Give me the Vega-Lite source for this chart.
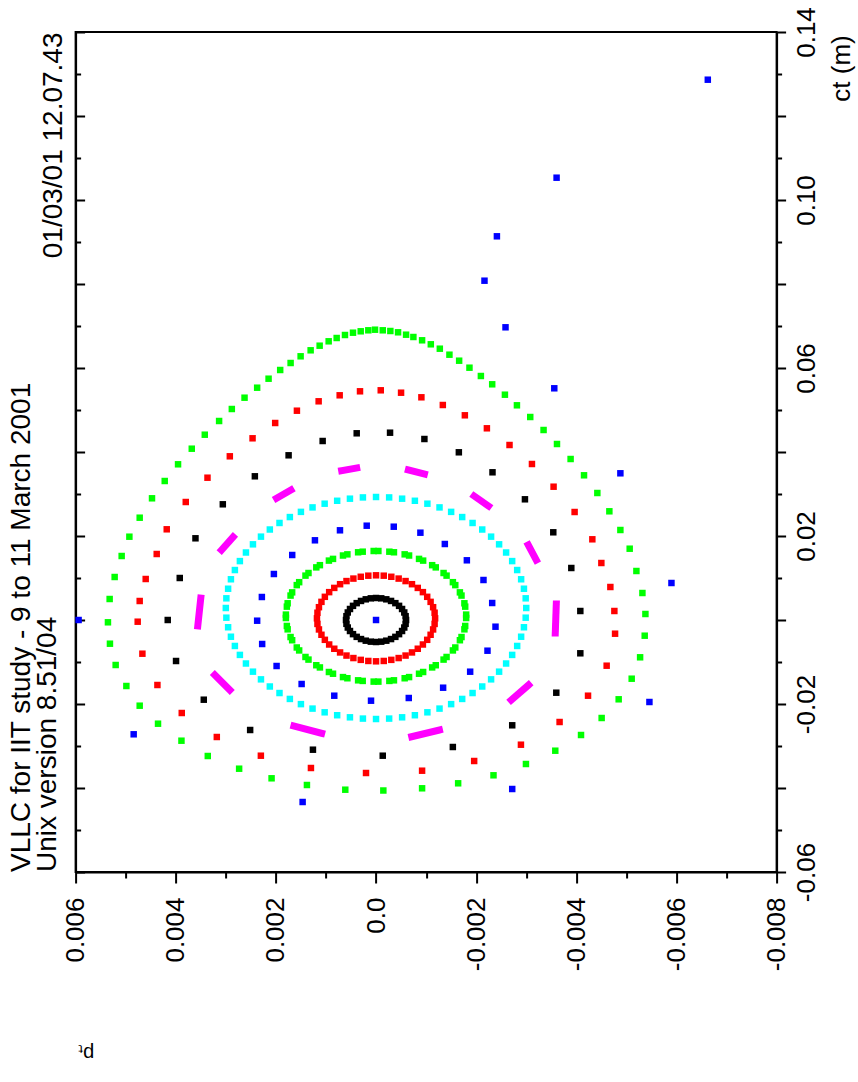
{
  "$schema": "https://vega.github.io/schema/vega-lite/v6.json",
  "width": 701,
  "height": 840,
  "autosize": "none",
  "padding": {"left": 75.6, "top": 32, "right": 81.4, "bottom": 210},
  "background": "white",
  "config": {
    "view": {"stroke": "black", "strokeWidth": 2},
    "font": "Liberation Sans",
    "axis": {
      "grid": false, "domainColor": "black", "domainWidth": 2,
      "tickColor": "black", "tickWidth": 2,
      "labelFont": "Liberation Sans", "labelFontSize": 26, "labelColor": "black",
      "titleFont": "Liberation Sans", "titleFontSize": 26, "titleFontWeight": "normal", "titleColor": "black",
      "labelOverlap": false, "labelFlush": false, "labelBound": false
    }
  },
  "title": {
    "text": ["VLLC for IIT study - 9 to 11 March 2001", "Unix version 8.51/04"],
    "orient": "left", "anchor": "start", "frame": "group", "offset": -23,
    "font": "Liberation Sans", "fontSize": 28, "fontWeight": "normal", "color": "black", "lineHeight": 26
  },
  "datasets": {
    "dashes": [
      {"p": 0.000686, "t": 0.035548, "p2": 0.000386, "t2": 0.03619},
      {"p": -0.000646, "t": 0.035714, "p2": -0.000966, "t2": 0.034762},
      {"p": -0.00196, "t": 0.029524, "p2": -0.002246, "t2": 0.027143},
      {"p": -0.00304, "t": 0.017857, "p2": -0.0032, "t2": 0.014286},
      {"p": -0.0036, "t": 0.00381, "p2": -0.00358, "t2": -0.003095},
      {"p": -0.003046, "t": -0.015476, "p2": -0.0027, "t2": -0.019048},
      {"p": -0.001266, "t": -0.02619, "p2": -0.000714, "t2": -0.027786},
      {"p": 0.001086, "t": -0.026976, "p2": 0.00164, "t2": -0.025238},
      {"p": 0.00292, "t": -0.016667, "p2": 0.00322, "t2": -0.013095},
      {"p": 0.00356, "t": -0.001429, "p2": 0.0035, "t2": 0.005238},
      {"p": 0.003086, "t": 0.016667, "p2": 0.002854, "t2": 0.019762},
      {"p": 0.001986, "t": 0.028976, "p2": 0.0017, "t2": 0.030952}
    ],
    "pts": [
      {"o": 0, "p": 0, "t": 0},

      {"o": 1, "p": 0.0006, "t": 0}, {"o": 1, "p": 0.000591, "t": 0.00091}, {"o": 1, "p": 0.000564, "t": 0.001792},
      {"o": 1, "p": 0.00052, "t": 0.00262}, {"o": 1, "p": 0.00046, "t": 0.003368}, {"o": 1, "p": 0.000386, "t": 0.004014},
      {"o": 1, "p": 0.0003, "t": 0.004538}, {"o": 1, "p": 0.000205, "t": 0.004924}, {"o": 1, "p": 0.000104, "t": 0.00516},
      {"o": 1, "p": 0, "t": 0.00524}, {"o": 1, "p": -0.000104, "t": 0.00516}, {"o": 1, "p": -0.000205, "t": 0.004924},
      {"o": 1, "p": -0.0003, "t": 0.004538}, {"o": 1, "p": -0.000386, "t": 0.004014}, {"o": 1, "p": -0.00046, "t": 0.003368},
      {"o": 1, "p": -0.00052, "t": 0.00262}, {"o": 1, "p": -0.000564, "t": 0.001792}, {"o": 1, "p": -0.000591, "t": 0.00091},
      {"o": 1, "p": -0.0006, "t": 0}, {"o": 1, "p": -0.000591, "t": -0.00091}, {"o": 1, "p": -0.000564, "t": -0.001792},
      {"o": 1, "p": -0.00052, "t": -0.00262}, {"o": 1, "p": -0.00046, "t": -0.003368}, {"o": 1, "p": -0.000386, "t": -0.004014},
      {"o": 1, "p": -0.0003, "t": -0.004538}, {"o": 1, "p": -0.000205, "t": -0.004924}, {"o": 1, "p": -0.000104, "t": -0.00516},
      {"o": 1, "p": 0, "t": -0.00524}, {"o": 1, "p": 0.000104, "t": -0.00516}, {"o": 1, "p": 0.000205, "t": -0.004924},
      {"o": 1, "p": 0.0003, "t": -0.004538}, {"o": 1, "p": 0.000386, "t": -0.004014}, {"o": 1, "p": 0.00046, "t": -0.003368},
      {"o": 1, "p": 0.00052, "t": -0.00262}, {"o": 1, "p": 0.000564, "t": -0.001792}, {"o": 1, "p": 0.000591, "t": -0.00091},

      {"o": 2, "p": 0.00118, "t": 0.0004}, {"o": 2, "p": 0.00117, "t": 0.001736}, {"o": 2, "p": 0.00114, "t": 0.00305},
      {"o": 2, "p": 0.00109, "t": 0.004319}, {"o": 2, "p": 0.001022, "t": 0.00552}, {"o": 2, "p": 0.000936, "t": 0.006634},
      {"o": 2, "p": 0.000834, "t": 0.007641}, {"o": 2, "p": 0.000718, "t": 0.008524}, {"o": 2, "p": 0.00059, "t": 0.009268},
      {"o": 2, "p": 0.000452, "t": 0.009861}, {"o": 2, "p": 0.000305, "t": 0.010291}, {"o": 2, "p": 0.000154, "t": 0.010552},
      {"o": 2, "p": 0, "t": 0.01064}, {"o": 2, "p": -0.000154, "t": 0.010552}, {"o": 2, "p": -0.000305, "t": 0.010291},
      {"o": 2, "p": -0.000452, "t": 0.009861}, {"o": 2, "p": -0.00059, "t": 0.009268}, {"o": 2, "p": -0.000718, "t": 0.008524},
      {"o": 2, "p": -0.000834, "t": 0.007641}, {"o": 2, "p": -0.000936, "t": 0.006634}, {"o": 2, "p": -0.001022, "t": 0.00552},
      {"o": 2, "p": -0.00109, "t": 0.004319}, {"o": 2, "p": -0.00114, "t": 0.00305}, {"o": 2, "p": -0.00117, "t": 0.001736},
      {"o": 2, "p": -0.00118, "t": 0.0004}, {"o": 2, "p": -0.00117, "t": -0.000936}, {"o": 2, "p": -0.00114, "t": -0.00225},
      {"o": 2, "p": -0.00109, "t": -0.003519}, {"o": 2, "p": -0.001022, "t": -0.00472}, {"o": 2, "p": -0.000936, "t": -0.005834},
      {"o": 2, "p": -0.000834, "t": -0.006841}, {"o": 2, "p": -0.000718, "t": -0.007724}, {"o": 2, "p": -0.00059, "t": -0.008468},
      {"o": 2, "p": -0.000452, "t": -0.009061}, {"o": 2, "p": -0.000305, "t": -0.009491}, {"o": 2, "p": -0.000154, "t": -0.009752},
      {"o": 2, "p": 0, "t": -0.00984}, {"o": 2, "p": 0.000154, "t": -0.009752}, {"o": 2, "p": 0.000305, "t": -0.009491},
      {"o": 2, "p": 0.000452, "t": -0.009061}, {"o": 2, "p": 0.00059, "t": -0.008468}, {"o": 2, "p": 0.000718, "t": -0.007724},
      {"o": 2, "p": 0.000834, "t": -0.006841}, {"o": 2, "p": 0.000936, "t": -0.005834}, {"o": 2, "p": 0.001022, "t": -0.00472},
      {"o": 2, "p": 0.00109, "t": -0.003519}, {"o": 2, "p": 0.00114, "t": -0.00225}, {"o": 2, "p": 0.00117, "t": -0.000936},

      {"o": 3, "p": 0.0018, "t": 0.000473}, {"o": 3, "p": 0.0018, "t": 0.001287},
      {"o": 3, "p": 0.001781, "t": 0.003179}, {"o": 3, "p": 0.001765, "t": 0.003981},
      {"o": 3, "p": 0.001707, "t": 0.005816}, {"o": 3, "p": 0.001675, "t": 0.00658},
      {"o": 3, "p": 0.001583, "t": 0.008303}, {"o": 3, "p": 0.001535, "t": 0.009007},
      {"o": 3, "p": 0.001409, "t": 0.010564}, {"o": 3, "p": 0.001349, "t": 0.011188},
      {"o": 3, "p": 0.001193, "t": 0.012529}, {"o": 3, "p": 0.001121, "t": 0.013053},
      {"o": 3, "p": 0.000941, "t": 0.014142}, {"o": 3, "p": 0.000859, "t": 0.01455},
      {"o": 3, "p": 0.00066, "t": 0.015353}, {"o": 3, "p": 0.000572, "t": 0.015631},
      {"o": 3, "p": 0.000358, "t": 0.016123}, {"o": 3, "p": 0.000266, "t": 0.016265},
      {"o": 3, "p": 0.000047, "t": 0.01643}, {"o": 3, "p": -0.000047, "t": 0.01643},
      {"o": 3, "p": -0.000266, "t": 0.016265}, {"o": 3, "p": -0.000358, "t": 0.016123},
      {"o": 3, "p": -0.000572, "t": 0.015631}, {"o": 3, "p": -0.00066, "t": 0.015353},
      {"o": 3, "p": -0.000859, "t": 0.01455}, {"o": 3, "p": -0.000941, "t": 0.014142},
      {"o": 3, "p": -0.001121, "t": 0.013053}, {"o": 3, "p": -0.001193, "t": 0.012529},
      {"o": 3, "p": -0.001349, "t": 0.011188}, {"o": 3, "p": -0.001409, "t": 0.010564},
      {"o": 3, "p": -0.001535, "t": 0.009007}, {"o": 3, "p": -0.001583, "t": 0.008303},
      {"o": 3, "p": -0.001675, "t": 0.00658}, {"o": 3, "p": -0.001707, "t": 0.005816},
      {"o": 3, "p": -0.001765, "t": 0.003981}, {"o": 3, "p": -0.001781, "t": 0.003179},
      {"o": 3, "p": -0.0018, "t": 0.001287}, {"o": 3, "p": -0.0018, "t": 0.000473},
      {"o": 3, "p": -0.001765, "t": -0.002221}, {"o": 3, "p": -0.001781, "t": -0.001419},
      {"o": 3, "p": -0.001675, "t": -0.00482}, {"o": 3, "p": -0.001707, "t": -0.004056},
      {"o": 3, "p": -0.001535, "t": -0.007247}, {"o": 3, "p": -0.001583, "t": -0.006543},
      {"o": 3, "p": -0.001349, "t": -0.009428}, {"o": 3, "p": -0.001409, "t": -0.008804},
      {"o": 3, "p": -0.001121, "t": -0.011293}, {"o": 3, "p": -0.001193, "t": -0.010769},
      {"o": 3, "p": -0.000859, "t": -0.01279}, {"o": 3, "p": -0.000941, "t": -0.012382},
      {"o": 3, "p": -0.000572, "t": -0.013871}, {"o": 3, "p": -0.00066, "t": -0.013593},
      {"o": 3, "p": -0.000266, "t": -0.014505}, {"o": 3, "p": -0.000358, "t": -0.014363},
      {"o": 3, "p": 0.000047, "t": -0.01467}, {"o": 3, "p": -0.000047, "t": -0.01467},
      {"o": 3, "p": 0.000358, "t": -0.014363}, {"o": 3, "p": 0.000266, "t": -0.014505},
      {"o": 3, "p": 0.00066, "t": -0.013593}, {"o": 3, "p": 0.000572, "t": -0.013871},
      {"o": 3, "p": 0.000941, "t": -0.012382}, {"o": 3, "p": 0.000859, "t": -0.01279},
      {"o": 3, "p": 0.001193, "t": -0.010769}, {"o": 3, "p": 0.001121, "t": -0.011293},
      {"o": 3, "p": 0.001409, "t": -0.008804}, {"o": 3, "p": 0.001349, "t": -0.009428},
      {"o": 3, "p": 0.001583, "t": -0.006543}, {"o": 3, "p": 0.001535, "t": -0.007247},
      {"o": 3, "p": 0.001707, "t": -0.004056}, {"o": 3, "p": 0.001675, "t": -0.00482},
      {"o": 3, "p": 0.001781, "t": -0.001419}, {"o": 3, "p": 0.001765, "t": -0.002221},

      {"o": 4, "p": 0.000186, "t": 0.022452}, {"o": 4, "p": -0.000354, "t": 0.022214}, {"o": 4, "p": -0.000886, "t": 0.020786},
      {"o": 4, "p": -0.001374, "t": 0.018095}, {"o": 4, "p": -0.001814, "t": 0.014214}, {"o": 4, "p": -0.002146, "t": 0.009524},
      {"o": 4, "p": -0.00232, "t": 0.004048}, {"o": 4, "p": -0.002386, "t": -0.001595}, {"o": 4, "p": -0.002226, "t": -0.00731},
      {"o": 4, "p": -0.00188, "t": -0.01231}, {"o": 4, "p": -0.00134, "t": -0.016119}, {"o": 4, "p": -0.000654, "t": -0.018571},
      {"o": 4, "p": 0.0001, "t": -0.019214}, {"o": 4, "p": 0.000834, "t": -0.018024}, {"o": 4, "p": 0.001486, "t": -0.015238},
      {"o": 4, "p": 0.001986, "t": -0.010952}, {"o": 4, "p": 0.002274, "t": -0.005714}, {"o": 4, "p": 0.002374, "t": -0.000167},
      {"o": 4, "p": 0.00228, "t": 0.005476}, {"o": 4, "p": 0.00204, "t": 0.010952}, {"o": 4, "p": 0.001674, "t": 0.015476},
      {"o": 4, "p": 0.00122, "t": 0.018976}, {"o": 4, "p": 0.00072, "t": 0.021357},

      {"o": 5, "p": 0.003, "t": 0.002857}, {"o": 5, "p": 0.002989, "t": 0.005162}, {"o": 5, "p": 0.002954, "t": 0.007445},
      {"o": 5, "p": 0.002898, "t": 0.009697}, {"o": 5, "p": 0.002819, "t": 0.011896}, {"o": 5, "p": 0.002719, "t": 0.014026},
      {"o": 5, "p": 0.002598, "t": 0.016072}, {"o": 5, "p": 0.002458, "t": 0.018017}, {"o": 5, "p": 0.002298, "t": 0.019846},
      {"o": 5, "p": 0.002121, "t": 0.021546}, {"o": 5, "p": 0.001928, "t": 0.023102}, {"o": 5, "p": 0.001721, "t": 0.024508},
      {"o": 5, "p": 0.0015, "t": 0.025745}, {"o": 5, "p": 0.001268, "t": 0.02681}, {"o": 5, "p": 0.001026, "t": 0.027693},
      {"o": 5, "p": 0.000776, "t": 0.028386}, {"o": 5, "p": 0.000521, "t": 0.028885}, {"o": 5, "p": 0.000262, "t": 0.029187},
      {"o": 5, "p": 0, "t": 0.029287}, {"o": 5, "p": -0.000262, "t": 0.029187}, {"o": 5, "p": -0.000521, "t": 0.028885},
      {"o": 5, "p": -0.000776, "t": 0.028386}, {"o": 5, "p": -0.001026, "t": 0.027693}, {"o": 5, "p": -0.001268, "t": 0.02681},
      {"o": 5, "p": -0.0015, "t": 0.025745}, {"o": 5, "p": -0.001721, "t": 0.024508}, {"o": 5, "p": -0.001928, "t": 0.023102},
      {"o": 5, "p": -0.002121, "t": 0.021546}, {"o": 5, "p": -0.002298, "t": 0.019846}, {"o": 5, "p": -0.002458, "t": 0.018017},
      {"o": 5, "p": -0.002598, "t": 0.016072}, {"o": 5, "p": -0.002719, "t": 0.014026}, {"o": 5, "p": -0.002819, "t": 0.011896},
      {"o": 5, "p": -0.002898, "t": 0.009697}, {"o": 5, "p": -0.002954, "t": 0.007445}, {"o": 5, "p": -0.002989, "t": 0.005162},
      {"o": 5, "p": -0.003, "t": 0.002857}, {"o": 5, "p": -0.002989, "t": 0.000552}, {"o": 5, "p": -0.002954, "t": -0.001731},
      {"o": 5, "p": -0.002898, "t": -0.003983}, {"o": 5, "p": -0.002819, "t": -0.006182}, {"o": 5, "p": -0.002719, "t": -0.008312},
      {"o": 5, "p": -0.002598, "t": -0.010358}, {"o": 5, "p": -0.002458, "t": -0.012303}, {"o": 5, "p": -0.002298, "t": -0.014132},
      {"o": 5, "p": -0.002121, "t": -0.015832}, {"o": 5, "p": -0.001928, "t": -0.017388}, {"o": 5, "p": -0.001721, "t": -0.018794},
      {"o": 5, "p": -0.0015, "t": -0.020031}, {"o": 5, "p": -0.001268, "t": -0.021096}, {"o": 5, "p": -0.001026, "t": -0.021979},
      {"o": 5, "p": -0.000776, "t": -0.022672}, {"o": 5, "p": -0.000521, "t": -0.023171}, {"o": 5, "p": -0.000262, "t": -0.023473},
      {"o": 5, "p": 0, "t": -0.023573}, {"o": 5, "p": 0.000262, "t": -0.023473}, {"o": 5, "p": 0.000521, "t": -0.023171},
      {"o": 5, "p": 0.000776, "t": -0.022672}, {"o": 5, "p": 0.001026, "t": -0.021979}, {"o": 5, "p": 0.001268, "t": -0.021096},
      {"o": 5, "p": 0.0015, "t": -0.020031}, {"o": 5, "p": 0.001721, "t": -0.018794}, {"o": 5, "p": 0.001928, "t": -0.017388},
      {"o": 5, "p": 0.002121, "t": -0.015832}, {"o": 5, "p": 0.002298, "t": -0.014132}, {"o": 5, "p": 0.002458, "t": -0.012303},
      {"o": 5, "p": 0.002598, "t": -0.010358}, {"o": 5, "p": 0.002719, "t": -0.008312}, {"o": 5, "p": 0.002819, "t": -0.006182},
      {"o": 5, "p": 0.002898, "t": -0.003983}, {"o": 5, "p": 0.002954, "t": -0.001731}, {"o": 5, "p": 0.002989, "t": 0.000552},

      {"o": 7, "p": -0.00028, "t": 0.044595}, {"o": 7, "p": 0.000386, "t": 0.044452}, {"o": 7, "p": 0.001066, "t": 0.042619},
      {"o": 7, "p": 0.001746, "t": 0.039214}, {"o": 7, "p": 0.00242, "t": 0.034214}, {"o": 7, "p": 0.00306, "t": 0.027548},
      {"o": 7, "p": 0.003606, "t": 0.019452}, {"o": 7, "p": 0.00392, "t": 0.01}, {"o": 7, "p": 0.00416, "t": 0},
      {"o": 7, "p": 0.003994, "t": -0.009762}, {"o": 7, "p": 0.00344, "t": -0.018976}, {"o": 7, "p": 0.002514, "t": -0.02619},
      {"o": 7, "p": 0.00126, "t": -0.030881}, {"o": 7, "p": -0.000134, "t": -0.03231}, {"o": 7, "p": -0.001534, "t": -0.030238},
      {"o": 7, "p": -0.00272, "t": -0.025071}, {"o": 7, "p": -0.0036, "t": -0.01731}, {"o": 7, "p": -0.00408, "t": -0.007929},
      {"o": 7, "p": -0.00408, "t": 0.002143}, {"o": 7, "p": -0.0039, "t": 0.012381}, {"o": 7, "p": -0.00354, "t": 0.020881},
      {"o": 7, "p": -0.002974, "t": 0.028738}, {"o": 7, "p": -0.002326, "t": 0.035167}, {"o": 7, "p": -0.001654, "t": 0.039929},
      {"o": 7, "p": -0.000966, "t": 0.043095},

      {"o": 8, "p": 0.00032, "t": 0.054452}, {"o": 8, "p": -0.000094, "t": 0.05469}, {"o": 8, "p": -0.0005, "t": 0.054119},
      {"o": 8, "p": -0.000906, "t": 0.053024}, {"o": 8, "p": -0.001334, "t": 0.05119}, {"o": 8, "p": -0.001774, "t": 0.048738},
      {"o": 8, "p": -0.002214, "t": 0.045643}, {"o": 8, "p": -0.002666, "t": 0.041667}, {"o": 8, "p": -0.003114, "t": 0.037143},
      {"o": 8, "p": -0.003546, "t": 0.031738}, {"o": 8, "p": -0.003966, "t": 0.025714}, {"o": 8, "p": -0.00432, "t": 0.019214},
      {"o": 8, "p": -0.0045, "t": 0.013571}, {"o": 8, "p": -0.00468, "t": 0.007857}, {"o": 8, "p": -0.00476, "t": 0.002143},
      {"o": 8, "p": -0.004774, "t": -0.003262}, {"o": 8, "p": -0.004606, "t": -0.010881}, {"o": 8, "p": -0.004234, "t": -0.018024},
      {"o": 8, "p": -0.003666, "t": -0.024286}, {"o": 8, "p": -0.002894, "t": -0.02969}, {"o": 8, "p": -0.00196, "t": -0.033571},
      {"o": 8, "p": -0.00092, "t": -0.035881}, {"o": 8, "p": 0.0002, "t": -0.036429}, {"o": 8, "p": 0.0013, "t": -0.035238},
      {"o": 8, "p": 0.0023, "t": -0.03231}, {"o": 8, "p": 0.00318, "t": -0.027857}, {"o": 8, "p": 0.00388, "t": -0.022143},
      {"o": 8, "p": 0.004366, "t": -0.015476}, {"o": 8, "p": 0.004666, "t": -0.008024}, {"o": 8, "p": 0.00476, "t": -0.000405},
      {"o": 8, "p": 0.00472, "t": 0.004524}, {"o": 8, "p": 0.0046, "t": 0.009762}, {"o": 8, "p": 0.00438, "t": 0.015714},
      {"o": 8, "p": 0.00418, "t": 0.021595}, {"o": 8, "p": 0.0038, "t": 0.028095}, {"o": 8, "p": 0.003366, "t": 0.03388},
      {"o": 8, "p": 0.00292, "t": 0.038976}, {"o": 8, "p": 0.002466, "t": 0.043262}, {"o": 8, "p": 0.002014, "t": 0.046905},
      {"o": 8, "p": 0.00158, "t": 0.049833}, {"o": 8, "p": 0.001146, "t": 0.052071}, {"o": 8, "p": 0.000726, "t": 0.0535},

      {"o": 9, "p": 0.004926, "t": 0.019833}, {"o": 9, "p": 0.00472, "t": 0.024357}, {"o": 9, "p": 0.004474, "t": 0.028976},
      {"o": 9, "p": 0.00422, "t": 0.033095}, {"o": 9, "p": 0.003954, "t": 0.037071}, {"o": 9, "p": 0.00368, "t": 0.040786},
      {"o": 9, "p": 0.00342, "t": 0.044119}, {"o": 9, "p": 0.003134, "t": 0.047381}, {"o": 9, "p": 0.00288, "t": 0.050238},
      {"o": 9, "p": 0.002626, "t": 0.052929}, {"o": 9, "p": 0.002374, "t": 0.05531}, {"o": 9, "p": 0.002146, "t": 0.057452},
      {"o": 9, "p": 0.001914, "t": 0.059524}, {"o": 9, "p": 0.001706, "t": 0.06119}, {"o": 9, "p": 0.001506, "t": 0.062786},
      {"o": 9, "p": 0.001306, "t": 0.064214}, {"o": 9, "p": 0.001126, "t": 0.06531}, {"o": 9, "p": 0.000946, "t": 0.066357},
      {"o": 9, "p": 0.000786, "t": 0.067143}, {"o": 9, "p": 0.00062, "t": 0.067857}, {"o": 9, "p": 0.00046, "t": 0.068405},
      {"o": 9, "p": 0.000306, "t": 0.068738}, {"o": 9, "p": 0.000154, "t": 0.068976}, {"o": 9, "p": 0.00002, "t": 0.069119},
      {"o": 9, "p": -0.000134, "t": 0.068976}, {"o": 9, "p": -0.000286, "t": 0.06881}, {"o": 9, "p": -0.00044, "t": 0.0685},
      {"o": 9, "p": -0.0006, "t": 0.067929}, {"o": 9, "p": -0.000746, "t": 0.067381}, {"o": 9, "p": -0.00092, "t": 0.066595},
      {"o": 9, "p": -0.001094, "t": 0.065643}, {"o": 9, "p": -0.001274, "t": 0.064595}, {"o": 9, "p": -0.001466, "t": 0.063167},
      {"o": 9, "p": -0.00166, "t": 0.061738}, {"o": 9, "p": -0.001866, "t": 0.060071}, {"o": 9, "p": -0.002094, "t": 0.058095},
      {"o": 9, "p": -0.00232, "t": 0.056119}, {"o": 9, "p": -0.002574, "t": 0.053643}, {"o": 9, "p": -0.002814, "t": 0.051119},
      {"o": 9, "p": -0.00308, "t": 0.048333}, {"o": 9, "p": -0.003346, "t": 0.045238}, {"o": 9, "p": -0.003614, "t": 0.041905},
      {"o": 9, "p": -0.003886, "t": 0.038333}, {"o": 9, "p": -0.004154, "t": 0.034452}, {"o": 9, "p": -0.00442, "t": 0.030238},
      {"o": 9, "p": -0.00466, "t": 0.025881}, {"o": 9, "p": -0.00488, "t": 0.021429}, {"o": 9, "p": -0.005066, "t": 0.016976},
      {"o": 9, "p": -0.0052, "t": 0.011667}, {"o": 9, "p": -0.00532, "t": 0.006429}, {"o": 9, "p": -0.00538, "t": 0.001429},
      {"o": 9, "p": -0.005366, "t": -0.003738}, {"o": 9, "p": -0.005274, "t": -0.008881}, {"o": 9, "p": -0.005106, "t": -0.013976},
      {"o": 9, "p": -0.004846, "t": -0.018881}, {"o": 9, "p": -0.004506, "t": -0.023333}, {"o": 9, "p": -0.004094, "t": -0.027381},
      {"o": 9, "p": -0.00358, "t": -0.031119}, {"o": 9, "p": -0.002994, "t": -0.034286}, {"o": 9, "p": -0.002346, "t": -0.036976},
      {"o": 9, "p": -0.00164, "t": -0.038881}, {"o": 9, "p": -0.00092, "t": -0.040071}, {"o": 9, "p": -0.000146, "t": -0.040595},
      {"o": 9, "p": 0.000614, "t": -0.040405}, {"o": 9, "p": 0.00138, "t": -0.039286}, {"o": 9, "p": 0.002086, "t": -0.03769},
      {"o": 9, "p": 0.002734, "t": -0.035405}, {"o": 9, "p": 0.00336, "t": -0.032381}, {"o": 9, "p": 0.003886, "t": -0.028738},
      {"o": 9, "p": 0.004354, "t": -0.02469}, {"o": 9, "p": 0.00472, "t": -0.020405}, {"o": 9, "p": 0.004986, "t": -0.015714},
      {"o": 9, "p": 0.0052, "t": -0.010714}, {"o": 9, "p": 0.005314, "t": -0.005643}, {"o": 9, "p": 0.005354, "t": -0.000548},
      {"o": 9, "p": 0.00532, "t": 0.005}, {"o": 9, "p": 0.00522, "t": 0.010238}, {"o": 9, "p": 0.00508, "t": 0.015238},

      {"o": 10, "p": 0.00594, "t": 0}, {"o": 10, "p": 0.00484, "t": -0.027214}, {"o": 10, "p": 0.001466, "t": -0.043333},
      {"o": 10, "p": -0.00272, "t": -0.040238}, {"o": 10, "p": -0.00546, "t": -0.019524}, {"o": 10, "p": -0.0059, "t": 0.00881},
      {"o": 10, "p": -0.00488, "t": 0.034929}, {"o": 10, "p": -0.00356, "t": 0.055167}, {"o": 10, "p": -0.002586, "t": 0.06969},
      {"o": 10, "p": -0.002166, "t": 0.080786}, {"o": 10, "p": -0.002414, "t": 0.091357}, {"o": 10, "p": -0.003606, "t": 0.10531},
      {"o": 10, "p": -0.006626, "t": 0.128643}
    ]
  },
  "encoding": {
    "x": {
      "field": "p", "type": "quantitative",
      "scale": {"domain": [-0.008, 0.006], "reverse": true, "nice": false, "zero": false},
      "axis": {
        "orient": "bottom",
        "values": [-0.008, -0.007, -0.006, -0.005, -0.004, -0.003, -0.002, -0.001, 0, 0.001, 0.002, 0.003, 0.004, 0.005, 0.006],
        "tickSize": {"condition": {"test": "abs(datum.value / 0.002 - round(datum.value / 0.002)) < 0.01", "value": 11}, "value": 6},
        "labelExpr": "abs(datum.value / 0.002 - round(datum.value / 0.002)) < 0.01 ? (abs(datum.value) < 1e-9 ? '0.0' : (datum.value < 0 ? '-' : '') + format(abs(datum.value), '.3f')) : ''",
        "labelAngle": -90, "labelAlign": "right", "labelBaseline": "middle", "labelPadding": 14,
        "title": "pₜ", "titleAngle": 180, "titleFontSize": 20, "titleAlign": "center", "titleBaseline": "middle",
        "titleX": 10, "titleY": 180
      }
    }
  },
  "layer": [
    {
      "data": {"name": "dashes"},
      "mark": {"type": "rule", "color": "#ff00ff", "strokeWidth": 7, "strokeCap": "square"},
      "encoding": {
        "y": {
          "field": "t", "type": "quantitative",
          "scale": {"domain": [-0.06, 0.14], "nice": false, "zero": false},
          "axis": {
            "orient": "left",
            "values": [-0.06, -0.05, -0.04, -0.03, -0.02, -0.01, 0, 0.01, 0.02, 0.03, 0.04, 0.05, 0.06, 0.07, 0.08, 0.09, 0.1, 0.11, 0.12, 0.13, 0.14],
            "labels": false,
            "tickSize": {"condition": {"test": "abs(datum.value / 0.02 - round(datum.value / 0.02)) < 0.01", "value": -9}, "value": -5},
            "title": "01/03/01 12.07.43", "titleFontSize": 28, "titleAngle": -90, "titleAlign": "right", "titleBaseline": "middle",
            "titleX": -22.6, "titleY": 0
          }
        },
        "x2": {"field": "p2"},
        "y2": {"field": "t2"}
      }
    },
    {
      "data": {"name": "pts"},
      "mark": {"type": "point", "shape": "square", "filled": true, "size": 42, "opacity": 1},
      "encoding": {
        "y": {
          "field": "t", "type": "quantitative",
          "scale": {"domain": [-0.06, 0.14], "nice": false, "zero": false},
          "axis": {
            "orient": "right",
            "values": [-0.06, -0.05, -0.04, -0.03, -0.02, -0.01, 0, 0.01, 0.02, 0.03, 0.04, 0.05, 0.06, 0.07, 0.08, 0.09, 0.1, 0.11, 0.12, 0.13, 0.14],
            "tickSize": {"condition": {"test": "abs(datum.value / 0.02 - round(datum.value / 0.02)) < 0.01", "value": 9}, "value": 5},
            "labelExpr": "abs((datum.value + 0.06) / 0.04 - round((datum.value + 0.06) / 0.04)) < 0.01 ? (datum.value < -1e-9 ? '-' : '') + format(abs(datum.value), '.2f') : ''",
            "labelAngle": -90, "labelAlign": "center", "labelBaseline": "top", "labelPadding": 8,
            "title": "ct (m)", "titleAngle": -90, "titleAlign": "center", "titleBaseline": "middle",
            "titleX": 64.6, "titleY": 36
          }
        },
        "color": {
          "field": "o", "type": "nominal", "legend": null,
          "scale": {
            "domain": [0, 1, 2, 3, 4, 5, 7, 8, 9, 10],
            "range": ["#0000ff", "#000000", "#ff0000", "#00ff00", "#0000ff", "#00ffff", "#000000", "#ff0000", "#00ff00", "#0000ff"]
          }
        }
      }
    }
  ],
  "resolve": {"axis": {"y": "independent"}}
}
